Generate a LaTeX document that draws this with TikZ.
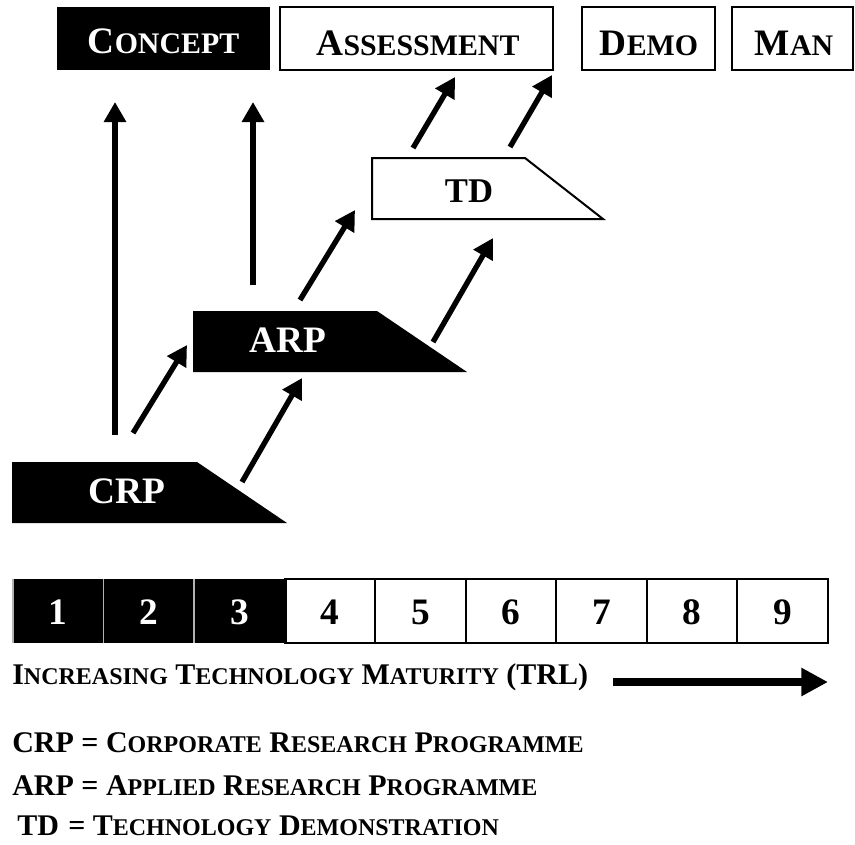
\documentclass[tikz,border=0pt]{standalone}
\usepackage{fontspec}
\setmainfont{Liberation Serif}
\usetikzlibrary{arrows.meta}
\makeatletter
% faked small capitals: the rest of a word at 80% of the current size
\newcommand\smcap[1]{{\fontsize{\the\dimexpr 0.8\dimexpr\f@size pt\relax\relax}{0pt}\selectfont #1}}
\makeatother
\begin{document}
\begin{tikzpicture}[x=0.75pt,y=-0.75pt,
  boxline/.style={line width=1.5pt},
  bigtxt/.style={inner sep=0pt, anchor=base, font=\bfseries\fontsize{28pt}{30pt}\selectfont},
  tdtxt/.style={inner sep=0pt, anchor=base, font=\bfseries\fontsize{26pt}{28pt}\selectfont},
  numtxt/.style={inner sep=0pt, anchor=base, font=\bfseries\fontsize{28pt}{30pt}\selectfont},
  legtxt/.style={inner sep=0pt, anchor=base west, font=\bfseries\fontsize{22.5pt}{24pt}\selectfont},
  flow/.style={line width=4pt, -{Triangle[length=15pt,width=16pt]}},
  trl/.style={line width=6pt, -{Triangle[length=20pt,width=20pt]}}]
\useasboundingbox (0,0) rectangle (855,844);

% ---- top row of stages ----
\fill[black] (57,7) rectangle (270,70);
\draw[boxline] (280,7) rectangle (553,70);
\draw[boxline] (582,7) rectangle (715,70);
\draw[boxline] (732,7) rectangle (853,70);
\node[bigtxt, text=white] (concept) at (163.5,53) {C\smcap{ONCEPT}};
\node[bigtxt] (assess) at (418,55) {A\smcap{SSESSMENT}};
\node[bigtxt] (demo) at (649,55) {D\smcap{EMO}};
\node[bigtxt] (man) at (794,55) {M\smcap{AN}};

% ---- programme shapes ----
\fill[black] (12,462) -- (197,462) -- (287,523) -- (12,523) -- cycle;
\fill[black] (193,311) -- (377,311) -- (467,372) -- (193,372) -- cycle;
\draw[boxline, fill=white] (372,158) -- (525,158) -- (603,219) -- (372,219) -- cycle;
\node[bigtxt, text=white] (crp) at (127,503) {CRP};
\node[bigtxt, text=white] (arp) at (288,352) {ARP};
\node[tdtxt] (td) at (469,202) {TD};

% ---- arrow end points ----
\coordinate (crpUp) at (115,435);   \coordinate (conceptA) at (115,102);
\coordinate (arpUp) at (253,285);   \coordinate (conceptB) at (253,102);
\coordinate (crpOutA) at (133,433); \coordinate (arpInA) at (187,345);
\coordinate (crpOutB) at (242,482); \coordinate (arpInB) at (302,378);
\coordinate (arpOutA) at (300,300); \coordinate (tdInA) at (355,210);
\coordinate (arpOutB) at (433,342); \coordinate (tdInB) at (493,238);
\coordinate (tdOutA) at (413,148);  \coordinate (assessInA) at (455,77);
\coordinate (tdOutB) at (510,147);  \coordinate (assessInB) at (552,75);

\draw[flow] (crpUp) -- (conceptA);
\draw[flow] (arpUp) -- (conceptB);
\draw[flow] (crpOutA) -- (arpInA);
\draw[flow] (crpOutB) -- (arpInB);
\draw[flow] (arpOutA) -- (tdInA);
\draw[flow] (arpOutB) -- (tdInB);
\draw[flow] (tdOutA) -- (assessInA);
\draw[flow] (tdOutB) -- (assessInB);

% ---- TRL scale ----
\fill[black] (13,579) rectangle (287,643);
\foreach \i in {1,...,9} {
  \pgfmathsetmacro\xl{13+(\i-1)*90.56}
  \pgfmathsetmacro\xr{13+\i*90.56}
  \pgfmathsetmacro\xc{13+(\i-0.5)*90.56}
  \ifnum\i>3
    \draw[boxline] (\xl,579) rectangle (\xr,643);
    \node[numtxt] (trl\i) at (\xc,624) {\i};
  \else
    \draw[line width=1pt, white!70!black] (\xl,579) -- (\xl,643);
    \node[numtxt, text=white] (trl\i) at (\xc,624) {\i};
  \fi
}

% ---- captions ----
\node[legtxt] (maturity) at (12,684) {I\smcap{NCREASING} T\smcap{ECHNOLOGY} M\smcap{ATURITY} (TRL)};
\coordinate (trlStart) at (613,682);
\coordinate (trlEnd) at (828,682);
\draw[trl] (trlStart) -- (trlEnd);

\node[legtxt] (legcrp) at (12,752) {CRP = C\smcap{ORPORATE} R\smcap{ESEARCH} P\smcap{ROGRAMME}};
\node[legtxt] (legarp) at (12,795) {ARP = A\smcap{PPLIED} R\smcap{ESEARCH} P\smcap{ROGRAMME}};
\node[legtxt] (legtd) at (17,835) {TD\hspace{7pt}= T\smcap{ECHNOLOGY} D\smcap{EMONSTRATION}};
\end{tikzpicture}
\end{document}
